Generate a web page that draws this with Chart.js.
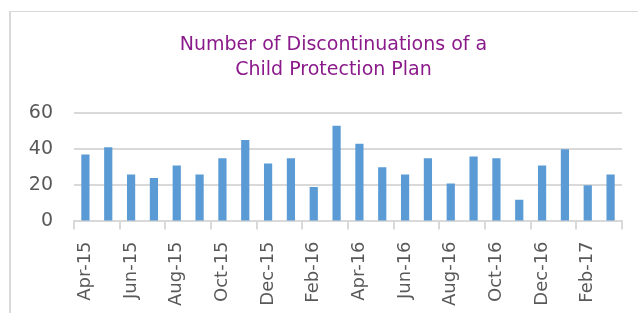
<!DOCTYPE html>
<html>
<head>
<meta charset="utf-8">
<script src="https://cdn.jsdelivr.net/npm/chart.js@4.4.1/dist/chart.umd.min.js"></script>
<style>
    html, body { margin: 0; padding: 0; background: #fff; overflow: hidden; }
    #wrap { position: relative; width: 638px; height: 313px; }
    #frame {
        position: absolute; left: 9px; top: 11px; width: 700px; height: 400px;
        border-left: 2px solid #d9d9d9; border-top: 1px solid #d9d9d9;
        pointer-events: none;
    }
    canvas { position: absolute; left: 0; top: 0; }
</style>
</head>
<body>
<div id="wrap">
    <canvas id="chart" width="638" height="313"></canvas>
    <div id="frame"></div>
</div>
<script>
const months = [
    'Apr-15', 'May-15', 'Jun-15', 'Jul-15', 'Aug-15', 'Sep-15', 'Oct-15', 'Nov-15',
    'Dec-15', 'Jan-16', 'Feb-16', 'Mar-16', 'Apr-16', 'May-16', 'Jun-16', 'Jul-16',
    'Aug-16', 'Sep-16', 'Oct-16', 'Nov-16', 'Dec-16', 'Jan-17', 'Feb-17', 'Mar-17'
];
const discontinuations = [
    37, 41, 26, 24, 31, 26, 35, 45,
    32, 35, 19, 53, 43, 30, 26, 35,
    21, 36, 35, 12, 31, 40, 20, 26
];
const yTicks = [0, 20, 40, 60];
const chartTitle = ['Number of Discontinuations of a', 'Child Protection Plan'];

const gridGrey = '#d9d9d9';
const labelGrey = '#595959';

document.addEventListener('DOMContentLoaded', function () {
    const ctx = document.getElementById('chart').getContext('2d');
    new Chart(ctx, {
        type: 'bar',
        data: {
            labels: months,
            datasets: [{
                data: discontinuations,
                backgroundColor: '#5b9bd5',
                borderWidth: 0,
                categoryPercentage: 1,
                barPercentage: 0.36
            }]
        },
        options: {
            responsive: false,
            animation: false,
            layout: { padding: { left: 29, right: 0, top: 0, bottom: -5 } },
            plugins: {
                legend: { display: false },
                tooltip: { enabled: false },
                title: {
                    display: true,
                    text: chartTitle,
                    color: '#8b1a8b',
                    font: { family: 'DejaVu Sans', size: 19, weight: 'normal', lineHeight: '25px' },
                    padding: { top: 33, bottom: 30 }
                }
            },
            scales: {
                x: {
                    afterFit: axis => { axis.paddingRight = 0; },
                    grid: {
                        offset: true,
                        drawOnChartArea: false,
                        drawTicks: true,
                        tickLength: 8,
                        lineWidth: 2,
                        color: c => (c.index === undefined || c.index % 2 === 0) ? gridGrey : 'rgba(0,0,0,0)'
                    },
                    border: { display: true, color: gridGrey, width: 2 },
                    ticks: {
                        autoSkip: false,
                        maxRotation: 90,
                        minRotation: 90,
                        padding: 12,
                        color: labelGrey,
                        font: { family: 'DejaVu Sans', size: 18 },
                        callback: function (value, index) {
                            return index % 2 === 0 ? months[index] : '';
                        }
                    }
                },
                y: {
                    min: 0,
                    max: 60,
                    afterBuildTicks: axis => { axis.ticks = yTicks.map(v => ({ value: v })); },
                    afterFit: axis => { axis.width = 45; },
                    grid: { color: gridGrey, lineWidth: 2, drawTicks: false },
                    border: { display: false },
                    ticks: {
                        padding: 21,
                        color: labelGrey,
                        font: { family: 'DejaVu Sans', size: 19 }
                    }
                },
                // empty spacer on the right so the title centres like the original
                spacer: {
                    type: 'linear',
                    position: 'right',
                    afterFit: axis => { axis.width = 16; },
                    grid: { drawOnChartArea: false, drawTicks: false },
                    border: { display: false },
                    ticks: { display: false }
                }
            }
        }
    });
});
</script>
</body>
</html>
